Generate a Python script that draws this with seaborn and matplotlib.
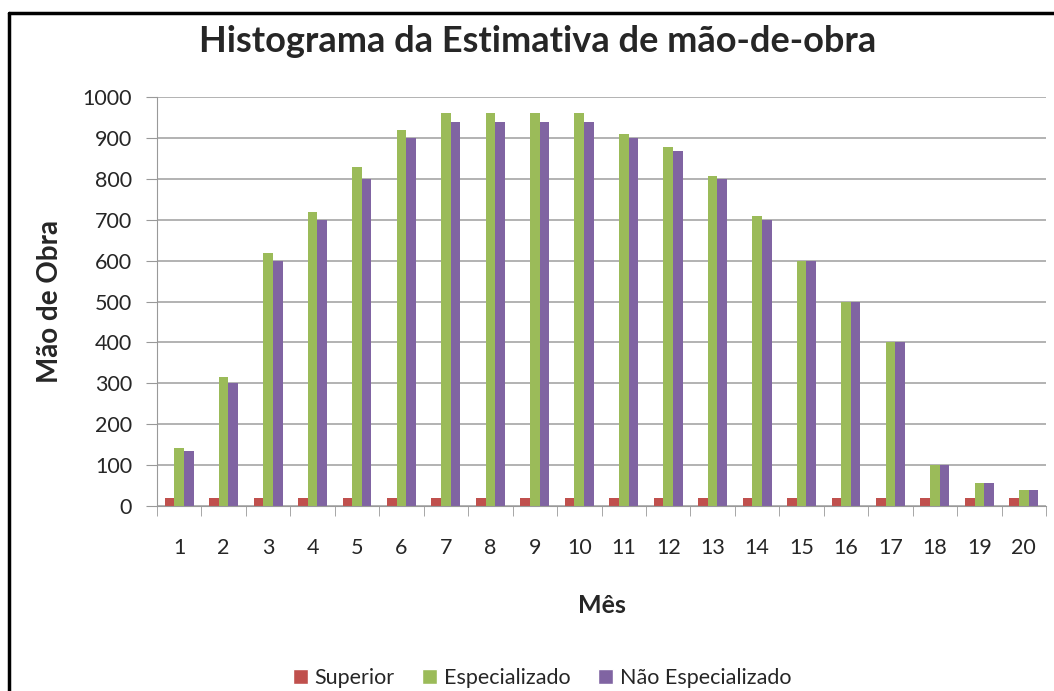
import numpy as np
import pandas as pd
import seaborn as sns
import matplotlib.pyplot as plt
from matplotlib.lines import Line2D
from matplotlib.patches import Patch
from matplotlib.ticker import FixedLocator

meses = list(range(1, 21))
superior = [20] * 20
especializado = [142, 315, 618, 720, 830, 920, 960, 960, 960, 960,
                 910, 878, 807, 710, 600, 500, 400, 100, 57, 38]
nao_especializado = [135, 300, 600, 700, 800, 900, 940, 940, 940, 940,
                     900, 868, 800, 700, 600, 500, 400, 100, 57, 38]
series = ["Superior", "Especializado", "Não Especializado"]
cores = ["#C0504D", "#9BBB59", "#8064A2"]

df = pd.DataFrame({
    "Mês": meses * 3,
    "valor": superior + especializado + nao_especializado,
    "serie": [s for s in series for _ in meses],
})

sns.set_style("white")
plt.rcParams['font.family'] = ['Lato', 'DejaVu Sans']

W, H = 1054, 691
fig = plt.figure(figsize=(W / 100, H / 100), dpi=100)
ax = fig.add_axes([157 / W, 1 - 506 / H, 889 / W, 409 / H])

sns.barplot(data=df, x="Mês", y="valor", hue="serie", hue_order=series,
            palette=cores, width=0.65, saturation=1, linewidth=0,
            ax=ax, legend=False)

ax.set_ylim(0, 1000)
ax.set_xlim(-0.5, 19.5)
ax.set_yticks(range(0, 1001, 100))
ax.yaxis.grid(True, color="#a6a6a6", linewidth=1.2)
ax.set_axisbelow(True)
for s in ["top", "right"]:
    ax.spines[s].set_visible(False)
ax.spines["left"].set_color("#999999")
ax.spines["bottom"].set_color("#999999")

ax.tick_params(axis="y", which="major", length=8, color="#999999",
               direction="out", labelsize=15.5, pad=10, left=True)
ax.tick_params(axis="x", which="major", length=0, labelsize=15.5, pad=23)
ax.xaxis.set_minor_locator(FixedLocator(np.arange(-0.5, 20, 1)))
ax.tick_params(axis="x", which="minor", length=7, color="#999999",
               direction="out", bottom=True)

ax.set_xlabel("Mês", fontsize=18, fontweight="bold", labelpad=26)
ax.set_ylabel("Mão de Obra", fontsize=20, fontweight="bold", labelpad=14)

fig.text(538 / W, 1 - 41 / H, "Histograma da Estimativa de mão-de-obra",
         ha="center", va="center", fontsize=26, fontweight="bold")

handles = [Patch(facecolor=c, label=s) for s, c in zip(series, cores)]
fig.legend(handles=handles, loc="center", bbox_to_anchor=(542 / W, 1 - 678 / H),
           ncol=3, frameon=False, fontsize=15.5, handlelength=0.7, handleheight=0.7,
           handletextpad=0.3, columnspacing=1.3)

# frame of the chart area (left and top edges visible)
fig.lines.append(Line2D([8.5 / W, 8.5 / W], [0, 1 - 13 / H], transform=fig.transFigure,
                        color="black", linewidth=2.5))
fig.lines.append(Line2D([8.5 / W, 1], [1 - 13 / H, 1 - 13 / H], transform=fig.transFigure,
                        color="black", linewidth=2.5))

fig.savefig("out.png", dpi=100)
